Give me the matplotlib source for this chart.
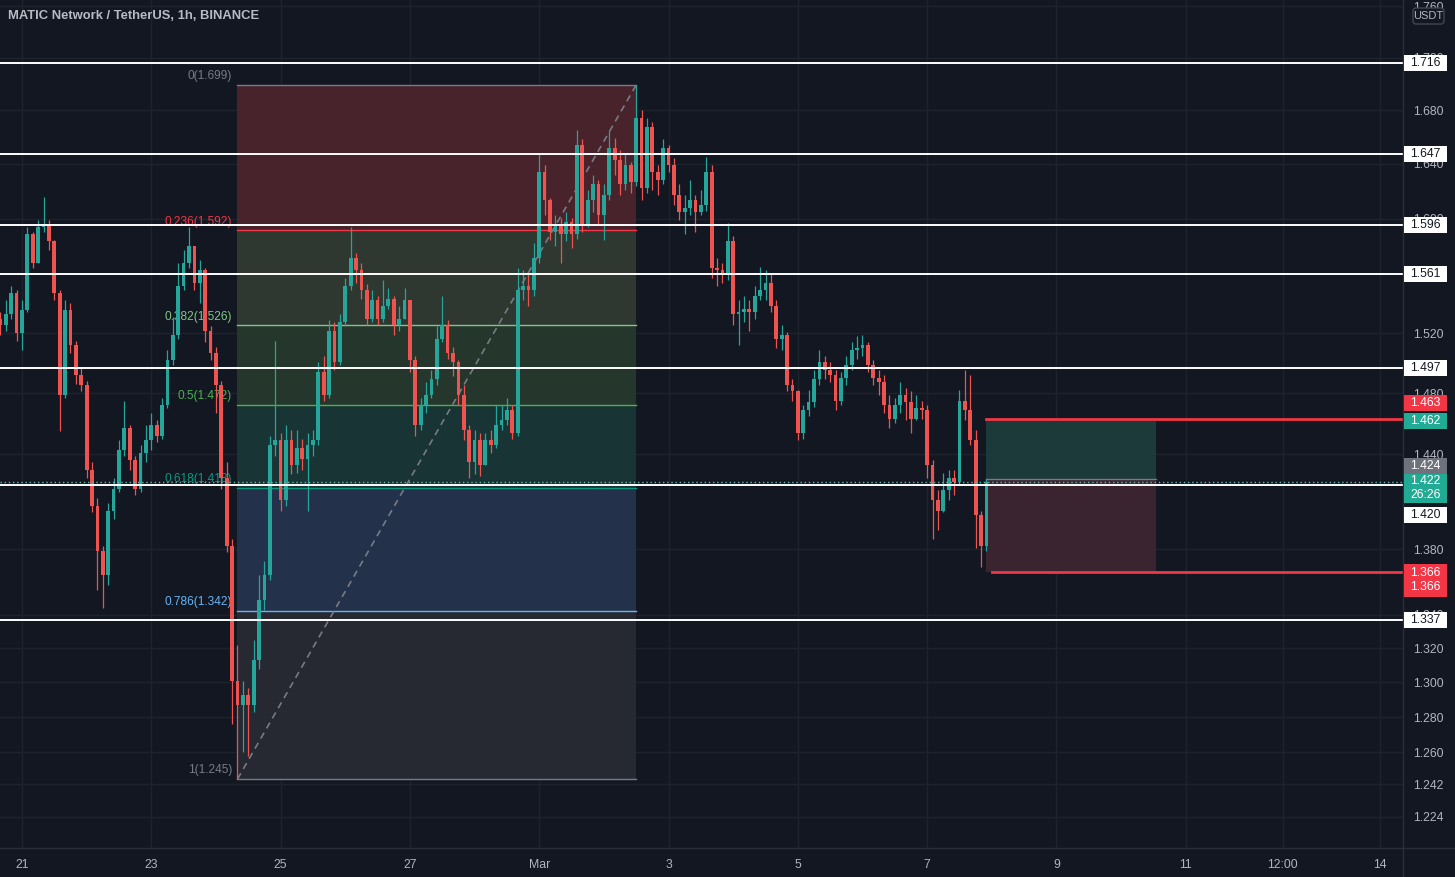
import numpy as np
import matplotlib
matplotlib.use("Agg")
import matplotlib.pyplot as plt
from matplotlib.patches import Rectangle, FancyBboxPatch
from matplotlib.ticker import FixedLocator, FixedFormatter, NullLocator

plt.rcParams['font.family'] = ['Liberation Sans', 'DejaVu Sans']

BG = '#131722'
GRID = '#1e222d'
TXT = '#b2b5be'
UP = '#26a69a'
DN = '#ef5350'

# 2h candles, first one Feb 20 16:00 (x axis in days of Feb, Mar 1 = 29)
t_start = 20 + 16 / 24
first_open = 1.530
closes = [1.526, 1.533, 1.548, 1.520, 1.536, 1.589, 1.569, 1.594, 1.596, 1.584,
          1.548, 1.479, 1.536, 1.512, 1.492, 1.485, 1.430, 1.407, 1.379, 1.364,
          1.404, 1.418, 1.443, 1.457, 1.436, 1.418, 1.441, 1.449, 1.459, 1.452,
          1.472, 1.502, 1.519, 1.553, 1.569, 1.581, 1.555, 1.564, 1.522, 1.507,
          1.485, 1.425, 1.382, 1.301, 1.287, 1.293, 1.287, 1.313, 1.349, 1.364,
          1.446, 1.449, 1.411, 1.449, 1.433, 1.444, 1.437, 1.446, 1.449, 1.494,
          1.479, 1.522, 1.501, 1.528, 1.553, 1.572, 1.564, 1.550, 1.530, 1.543,
          1.530, 1.539, 1.544, 1.526, 1.530, 1.543, 1.502, 1.459, 1.472, 1.479,
          1.489, 1.516, 1.526, 1.507, 1.501, 1.479, 1.456, 1.435, 1.449, 1.433,
          1.449, 1.446, 1.459, 1.462, 1.469, 1.454, 1.550, 1.553, 1.550, 1.572,
          1.634, 1.614, 1.591, 1.596, 1.589, 1.598, 1.589, 1.654, 1.596, 1.614,
          1.625, 1.603, 1.617, 1.652, 1.643, 1.625, 1.639, 1.627, 1.674, 1.622,
          1.667, 1.634, 1.628, 1.652, 1.639, 1.617, 1.605, 1.608, 1.614, 1.605,
          1.610, 1.634, 1.565, 1.564, 1.560, 1.584, 1.533, 1.535, 1.537, 1.535,
          1.546, 1.550, 1.555, 1.539, 1.516, 1.519, 1.485, 1.481, 1.454, 1.469,
          1.474, 1.489, 1.501, 1.495, 1.492, 1.475, 1.490, 1.499, 1.509, 1.510,
          1.512, 1.499, 1.490, 1.487, 1.472, 1.463, 1.472, 1.479, 1.474, 1.463,
          1.470, 1.469, 1.433, 1.411, 1.404, 1.417, 1.425, 1.422, 1.475, 1.469,
          1.449, 1.401, 1.382, 1.422]
highs = [1.535, 1.543, 1.553, 1.550, 1.543, 1.594, 1.591, 1.599, 1.616, 1.599,
         1.585, 1.550, 1.543, 1.541, 1.515, 1.497, 1.488, 1.435, 1.412, 1.382,
         1.409, 1.425, 1.449, 1.475, 1.459, 1.439, 1.446, 1.459, 1.467, 1.462,
         1.477, 1.509, 1.531, 1.569, 1.578, 1.594, 1.581, 1.571, 1.565, 1.525,
         1.511, 1.488, 1.435, 1.386, 1.322, 1.301, 1.297, 1.325, 1.364, 1.373,
         1.452, 1.515, 1.454, 1.459, 1.456, 1.456, 1.450, 1.454, 1.456, 1.501,
         1.505, 1.529, 1.528, 1.533, 1.558, 1.594, 1.576, 1.569, 1.554, 1.550,
         1.546, 1.557, 1.551, 1.546, 1.539, 1.551, 1.543, 1.505, 1.477, 1.487,
         1.495, 1.525, 1.546, 1.529, 1.511, 1.502, 1.485, 1.459, 1.456, 1.454,
         1.454, 1.456, 1.472, 1.472, 1.477, 1.472, 1.565, 1.564, 1.562, 1.583,
         1.648, 1.639, 1.615, 1.603, 1.601, 1.605, 1.601, 1.665, 1.658, 1.621,
         1.632, 1.628, 1.625, 1.664, 1.659, 1.650, 1.647, 1.641, 1.699, 1.680,
         1.674, 1.671, 1.639, 1.658, 1.654, 1.644, 1.625, 1.617, 1.628, 1.617,
         1.621, 1.645, 1.639, 1.572, 1.569, 1.597, 1.588, 1.543, 1.546, 1.543,
         1.553, 1.566, 1.564, 1.562, 1.543, 1.526, 1.521, 1.489, 1.482, 1.472,
         1.482, 1.495, 1.509, 1.505, 1.501, 1.495, 1.494, 1.505, 1.514, 1.518,
         1.519, 1.514, 1.502, 1.495, 1.492, 1.479, 1.477, 1.487, 1.483, 1.481,
         1.479, 1.475, 1.472, 1.436, 1.417, 1.428, 1.430, 1.430, 1.482, 1.495,
         1.492, 1.456, 1.404, 1.424]
lows = [1.519, 1.522, 1.530, 1.515, 1.509, 1.535, 1.565, 1.569, 1.591, 1.578,
        1.543, 1.455, 1.477, 1.507, 1.486, 1.481, 1.425, 1.403, 1.355, 1.344,
        1.358, 1.399, 1.416, 1.439, 1.430, 1.414, 1.416, 1.435, 1.443, 1.448,
        1.450, 1.470, 1.499, 1.516, 1.550, 1.565, 1.550, 1.541, 1.514, 1.502,
        1.467, 1.418, 1.378, 1.276, 1.245, 1.260, 1.258, 1.283, 1.308, 1.343,
        1.361, 1.439, 1.404, 1.407, 1.427, 1.428, 1.430, 1.404, 1.439, 1.446,
        1.475, 1.477, 1.495, 1.499, 1.525, 1.550, 1.555, 1.544, 1.526, 1.528,
        1.526, 1.528, 1.537, 1.519, 1.522, 1.530, 1.494, 1.452, 1.456, 1.467,
        1.477, 1.485, 1.514, 1.503, 1.491, 1.472, 1.449, 1.425, 1.427, 1.426,
        1.437, 1.441, 1.444, 1.456, 1.459, 1.450, 1.452, 1.543, 1.539, 1.546,
        1.569, 1.603, 1.585, 1.581, 1.569, 1.584, 1.579, 1.586, 1.591, 1.594,
        1.605, 1.596, 1.585, 1.614, 1.632, 1.617, 1.621, 1.619, 1.624, 1.614,
        1.619, 1.621, 1.617, 1.625, 1.634, 1.610, 1.599, 1.589, 1.603, 1.591,
        1.603, 1.606, 1.558, 1.553, 1.555, 1.557, 1.526, 1.512, 1.528, 1.522,
        1.530, 1.543, 1.543, 1.535, 1.510, 1.509, 1.481, 1.475, 1.449, 1.450,
        1.465, 1.471, 1.485, 1.489, 1.487, 1.469, 1.472, 1.485, 1.495, 1.503,
        1.505, 1.494, 1.485, 1.479, 1.467, 1.457, 1.460, 1.467, 1.462, 1.454,
        1.462, 1.463, 1.425, 1.386, 1.392, 1.403, 1.411, 1.414, 1.420, 1.462,
        1.446, 1.381, 1.369, 1.379]

# user drawn horizontal levels
h_levels = [1.716, 1.647, 1.596, 1.561, 1.497, 1.420, 1.337]
# fib retracement
fib_hi, fib_lo = 1.699, 1.245
fib_i0, fib_i1 = 44, 118          # anchor candles (low, high)
fib_ratios = [0, 0.236, 0.382, 0.5, 0.618, 0.786, 1]
fib_line_cols = ['#787b86', '#f23645', '#81c784', '#4caf50', '#089981', '#64b5f6', '#787b86']
fib_fill_cols = ['#48232b', '#2e3730', '#25372c', '#183434', '#23314a', '#262932']
# long position
entry, target, stop = 1.424, 1.462, 1.366
pos_len = 2.625   # days
last_price = 1.422
countdown = '26:26'

yticks = [1.224, 1.242, 1.260, 1.280, 1.300, 1.320, 1.340, 1.380,
          1.440, 1.480, 1.520, 1.600, 1.640, 1.680, 1.720, 1.760]
xtick_pos = [21, 23, 25, 27, 29, 31, 33, 35, 37, 39, 40.5, 42]
xtick_lab = ['21', '23', '25', '27', 'Mar', '3', '5', '7', '9', '11', '12:00', '14']

W, H = 1455, 877
fig = plt.figure(figsize=(W / 100, H / 100), dpi=100, facecolor=BG)
ax = fig.add_axes([0, 29 / H, 1403 / W, 848 / H])
ax.set_facecolor(BG)
ax.set_yscale('log')
ax.set_ylim(1.2071, 1.7649)
ax.set_xlim(20.66, 42.36)

ax.yaxis.set_major_locator(FixedLocator(yticks))
ax.yaxis.set_major_formatter(FixedFormatter(['%.3f' % v for v in yticks]))
ax.yaxis.set_minor_locator(NullLocator())
ax.yaxis.tick_right()
ax.set_xticks(xtick_pos)
ax.set_xticklabels(xtick_lab)
ax.tick_params(axis='both', length=0, colors=TXT, labelsize=8.8)
ax.tick_params(axis='y', pad=7)
ax.tick_params(axis='x', pad=8)
ax.grid(True, color=GRID, lw=1, zorder=0)
ax.set_axisbelow(True)
for s in ax.spines.values():
    s.set_visible(False)

c = np.array(closes)
hi = np.array(highs)
lo = np.array(lows)
o = np.r_[first_open, c[:-1]]
hi = np.maximum(hi, np.maximum(o, c))
lo = np.minimum(lo, np.minimum(o, c))
t = t_start + np.arange(len(c)) / 12

# fib retracement
fx0, fx1 = t[fib_i0], t[fib_i1]
fib_prices = [fib_hi - (fib_hi - fib_lo) * r for r in fib_ratios]
for k in range(len(fib_prices) - 1):
    ax.fill_between([fx0, fx1], fib_prices[k + 1], fib_prices[k],
                    color=fib_fill_cols[k], lw=0, zorder=1)
for r, p, col in zip(fib_ratios, fib_prices, fib_line_cols):
    ax.plot([fx0, fx1], [p, p], color=col, lw=1, zorder=1.5)
    ax.annotate('%g(%.3f)' % (r, p), (fx0, p), xytext=(-4, 2), textcoords='offset points',
                ha='right', va='bottom', color=col, fontsize=8.6, zorder=1.6)
ax.plot([fx0, fx1], [fib_lo, fib_hi], color='#787b86', lw=1.2, ls=(0, (4, 3)), zorder=1.7)

# long position tool
px0 = t[-1]
ax.fill_between([px0, px0 + pos_len], entry, target, color='#1c3a3a', lw=0, zorder=1)
ax.fill_between([px0, px0 + pos_len], stop, entry, color='#3a2430', lw=0, zorder=1)
ax.plot([px0, px0 + pos_len], [entry, entry], color='#787b86', lw=1, zorder=1.5)

# candles
cols = np.where(c >= o, UP, DN)
ax.vlines(t, lo, hi, colors=cols, lw=0.9, zorder=3)
body = np.maximum(np.abs(c - o), 0.0008)
ax.bar(t, body, bottom=np.minimum(o, c), width=0.058, color=cols, lw=0, zorder=3.1)

# horizontal lines
for p in h_levels:
    ax.axhline(p, color='white', lw=1.4, zorder=4)
ax.axhline(last_price, color='#6fb5ae', lw=1, ls=(0, (1, 2)), zorder=4)
ax.plot([px0, 42.36], [target + 0.001, target + 0.001], color='#f23645', lw=2, zorder=4)
ax.plot([px0 + 0.08, 42.36], [stop, stop], color='#f23645', lw=2, zorder=4)

# overlay in pixel coordinates for price-scale labels and header
ov = fig.add_axes([0, 0, 1, 1], zorder=10)
ov.set_xlim(0, W)
ov.set_ylim(H, 0)
ov.axis('off')
ov.patch.set_alpha(0)


def py(price):
    return H - ax.transData.transform((30, price))[1]


ov.plot([1403, 1403], [0, H], color='#2a2e39', lw=1)
ov.plot([0, W], [848, 848], color='#2a2e39', lw=1)


def tag(yc, lines, face, fg, h=16):
    ov.add_patch(Rectangle((1404, yc - h / 2), 43, h, facecolor=face, edgecolor='none', zorder=5))
    n = len(lines)
    for j, s in enumerate(lines):
        yy = yc + (j - (n - 1) / 2) * 14
        ov.text(1425.5, yy, s, ha='center', va='center', fontsize=8.8, color=fg, zorder=6)


for p in [1.716, 1.647, 1.596, 1.561, 1.497, 1.337]:
    tag(py(p), ['%.3f' % p], 'white', '#131722')
tag(py(1.420) + 30, ['1.420'], 'white', '#131722')
tag(py(1.463) - 16, ['1.463'], '#f23645', 'white')
tag(py(target) + 1, ['%.3f' % target], '#22ab94', 'white')
tag(py(entry) - 13, ['%.3f' % entry], '#6f727c', 'white')
tag(py(last_price) + 6, ['%.3f' % last_price, countdown], '#22ab94', 'white', h=29)
tag(py(stop) + 8.5, ['%.3f' % stop, '%.3f' % stop], '#f23645', 'white', h=33)

ov.add_patch(FancyBboxPatch((1413, 8), 31, 16, boxstyle='round,pad=0,rounding_size=3',
                            facecolor=BG, edgecolor='#434651', lw=1, zorder=7))
ov.text(1428.5, 16, 'USDT', ha='center', va='center', fontsize=8, color=TXT, zorder=8)

ov.text(8, 16, 'MATIC Network / TetherUS, 1h, BINANCE', ha='left', va='center',
        fontsize=9.4, fontweight='bold', color='#b8bbc3', zorder=8)

fig.savefig('out.png', dpi=100, facecolor=BG)
